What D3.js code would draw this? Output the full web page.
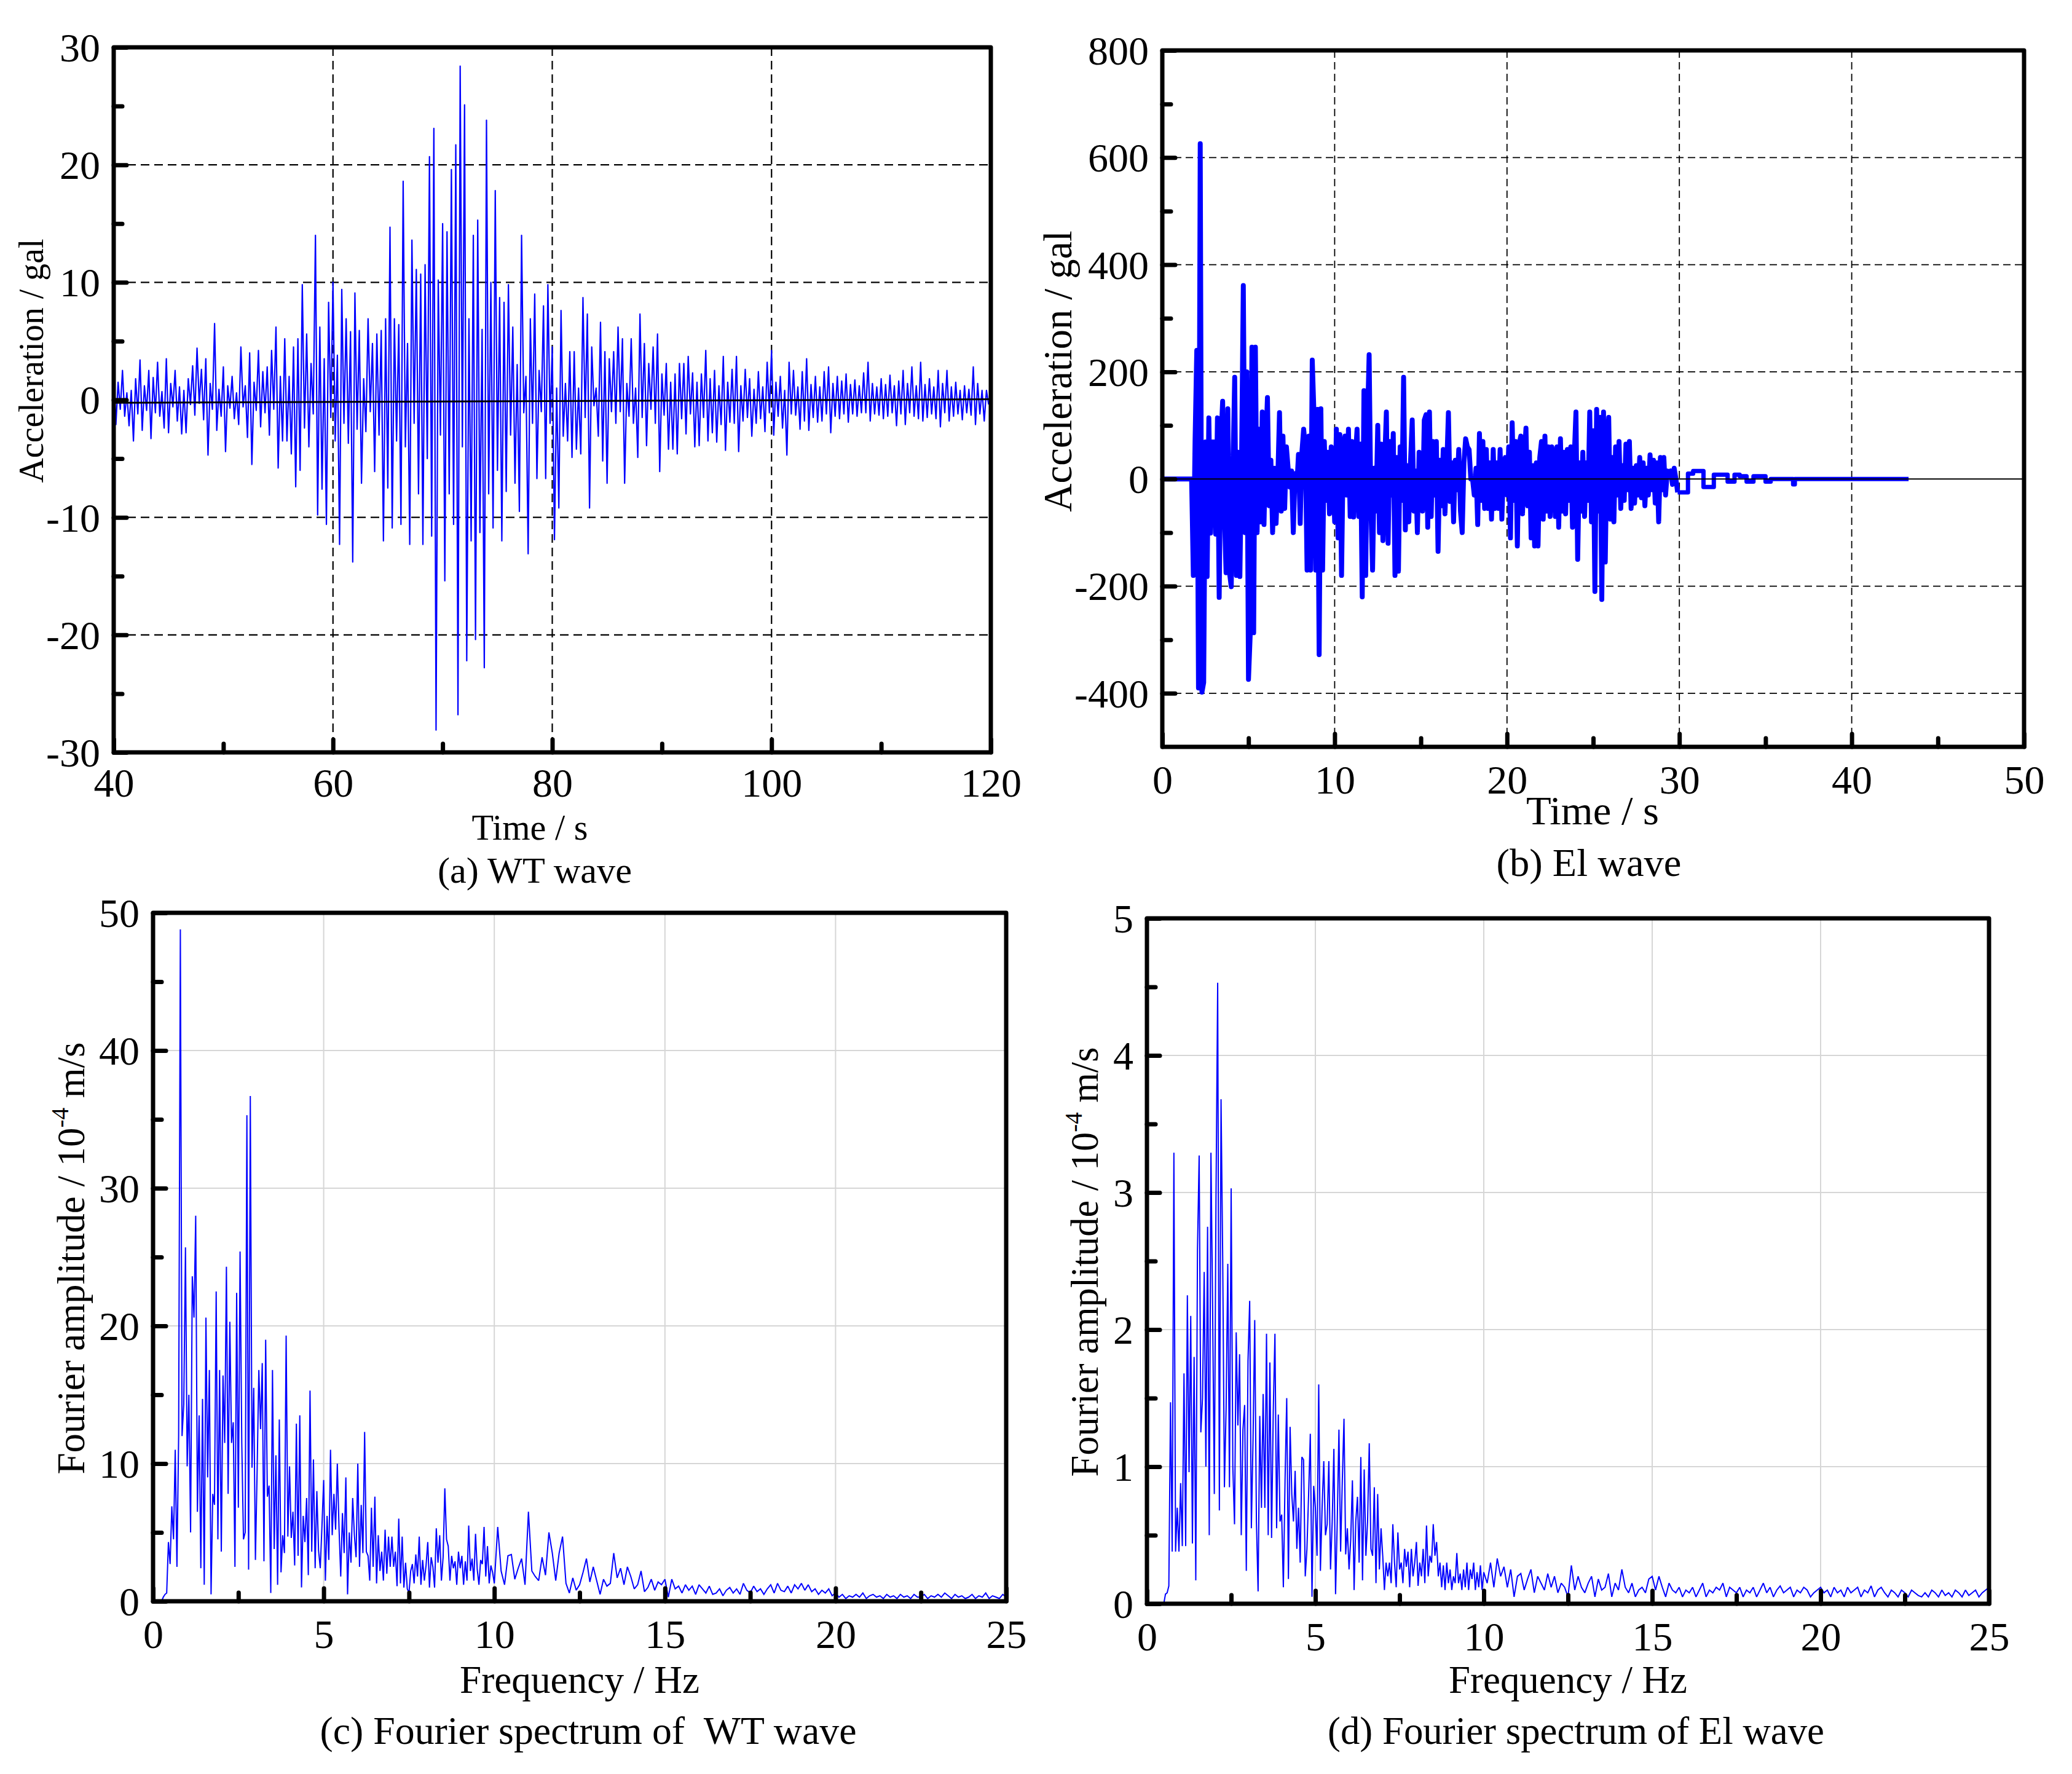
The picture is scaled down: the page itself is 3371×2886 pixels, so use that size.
<!DOCTYPE html>
<html><head><meta charset="utf-8">
<script src="https://cdn.jsdelivr.net/npm/d3@7"></script>
<style>
html,body{margin:0;padding:0;background:#fff;}
svg{display:block;background:#fff;}
text{font-family:"Liberation Serif","Times New Roman",Times,serif;fill:#000;}
</style>
</head><body>
<svg id="chart" width="3371" height="2886"></svg>
<script>
// ---------------- DATA ----------------
// (a) WT wave: acceleration (gal), sampled every 0.2 s from 40 s
const wtStart = 40, wtStep = 0.2;
const wtAcc = [
2.2,-2.1,1.5,-0.8,2.5,-1.4,0.6,-2.2,0.8,-3.5,
1.8,-1.2,3.4,-2.6,1.2,-0.9,2.5,-3.3,1.9,-1.1,
3.2,-1.4,0.7,-2.4,3.5,-2.8,1.4,-0.6,2.5,-1.8,
1.1,-2.9,0.8,-2.8,1.8,-0.4,2.9,-1.3,4.4,-0.3,
2.6,-1.7,3.5,-4.7,1.4,-0.8,6.5,-2.6,0.9,-1.4,
2.8,-4.4,1.2,-0.7,2,-1.6,0.6,-2.1,4.5,-0.6,
1.2,-3.2,4,-5.5,1.5,-0.9,4.2,-2.3,2.4,-1.1,
2.8,-3,4.2,-0.8,6.2,-5.8,2,-3.5,5.2,-3.5,
2,-4.6,4.5,-7.4,5.2,-6,9.8,-2.4,5.6,-4,
3.1,-1.2,14,-9.8,6.2,-7.6,3.5,-10.6,8.3,-1.5,
10,-3.5,3.8,-12.3,9.4,-2,6.9,-3.7,5.8,-13.8,
9.1,-2.5,5.9,-7.1,1.8,-2.7,6.9,-1,4.8,-6.1,
5.6,-3,5.9,-12,6.9,-7.5,14.7,-10.9,6.9,-3.5,
6.4,-10.6,18.6,-4,4.8,-12.3,13.6,-2,11.1,-8,
10.7,-12.3,11.5,-5,20.7,-11.6,23.1,-28.1,10.2,-3,
15,-15.4,14.3,-8,19.6,-10.6,21.7,-26.8,28.4,-4,
25.1,-22.2,6.9,-12,14,-20.4,15.3,-11.3,6,-22.8,
23.8,-8,10,-10.9,17.8,-6,8.7,-12,8.3,-7.8,
9.8,-3,6.2,-7.1,3,-9.5,14,-1.1,2,-13.1,
6.9,-2,9,-6.7,2.5,-1,8,-6.7,9.8,-2,
4.5,-11.9,1,-9.2,7.6,-3.1,1.4,-3.5,4.1,-4.9,
4.1,-4.2,1,-4.6,8.7,-1.5,7.3,-9.2,4.5,-0.5,
1,-3.1,6.6,-5.2,4.1,-7.1,3.5,-1,4.1,-2,
6.2,-1,5.2,-7.1,1.4,-1.4,5.2,-2,1,-4.9,
7.3,-1.5,4.8,-3.9,3.1,-0.8,4.5,-2,5.6,-6.1,
2.2,-1.3,3.1,-4.2,1.5,-4.2,2.2,-4.6,3.1,-1.6,
3.1,-2.9,3.7,-1.2,2.3,-4,1.5,-3.9,2.2,-1.5,
4.2,-3.5,1.8,-2.8,2.5,-3.6,1.2,-2.1,3.7,-4.3,
1.5,-1.9,2.6,-2,3.7,-4.4,1.2,-1.8,2.6,-1.5,
1.8,-3.1,0.9,-2,2.4,-1.6,1.1,-2.7,3.2,-1.1,
4.2,-3,1.5,-1.4,2,-2.4,0.8,-4.7,3.2,-1.2,
2.5,-1.3,1.1,-2.5,2.4,-1.8,3.5,-2.6,1.3,-1.5,
2,-1.9,1.1,-1.8,2.4,-1.2,2.8,-2.8,1.4,-1.4,
2,-1.6,1.6,-1.2,2.2,-1.9,1.3,-1.2,1.7,-1.4,
1.2,-1.1,2.3,-1.1,3.2,-1.8,1.4,-1.2,1.1,-1.3,
1.8,-1.6,1.3,-1.4,2.1,-1.1,1.2,-2.2,1.6,-1.2,
2.5,-2.1,1.4,-1.1,2.8,-1.4,1.2,-1.6,3.2,-1.8,
1.3,-1.5,1.8,-1.2,1.1,-1.6,2.5,-2.3,1.4,-1.1,
2.5,-1.8,1.1,-1.4,1.5,-1.2,0.8,-1.7,1.2,-1.1,
0.9,-1.3,2.8,-2.1,1.4,-1.2,0.8,-1.8,0.8,-0.4
];
// black reference (zero) line drawn in (a)
const wtBaseTime = [40, 120];
const wtBaseAcc = [-0.25, 0.05];

// (b) El wave: acceleration (gal), every 0.1 s from 1.0 s
const elStart = 1.0, elStep = 0.1;
const elAcc = [
0,0,0,0,0,0,0,0,-180,70,
240,-390,626,-398,-380,69,-182,114,-101,69,
69,-103,114,-221,70,145,-60,-175,131,-175,
-201,20,190,-180,50,-182,40,361,-100,200,
-374,-290,246,-287,246,-100,93,-80,125,-85,
60,152,-50,35,-100,20,-83,0,124,-60,
80,-55,60,20,-15,15,-100,10,-18,46,
-83,50,93,60,-170,80,-170,222,120,-170,
130,-328,131,-170,70,-40,50,-65,60,20,
-80,93,-110,83,-180,60,80,-30,93,-70,
70,-71,40,93,-70,65,-220,165,-180,100,
232,-50,-170,20,-60,100,-100,65,-115,30,
125,-120,70,-30,85,-180,40,-172,60,-40,
190,-95,25,-80,30,110,-60,15,-100,50,
20,-60,110,120,-90,125,-70,70,-30,70,
-135,35,-50,55,-65,20,124,-42,30,-80,
35,-20,55,-60,-100,30,75,60,55,0,
0,-30,20,-85,85,-40,70,-55,55,-55,
30,-75,55,-55,30,-55,55,-75,25,40,
-30,60,-110,105,-40,70,-125,65,80,-65,
40,95,-50,50,-110,25,-125,30,-125,40,
70,-75,80,-60,60,-70,60,40,-70,60,
-90,75,-60,50,-65,55,-40,60,-90,40,
125,-150,30,-60,50,-70,30,-40,125,-80,
90,-210,130,-60,115,-225,125,-155,60,115,
-75,40,-80,60,-30,70,-55,25,-40,65,
-20,70,-55,20,-45,25,-30,40,-35,30,
-50,20,-30,45,-20,35,-45,30,-80,40,
-20,40,-30,15,5,15,-10,20,0,-25
];
const elLeadTime = [0];
const elLeadAcc = [0];
const elTailTime = [30.0,30.3,30.5,30.8,31.0,31.4,31.7,32.0,32.4,32.8,33.2,33.5,33.9,34.3,34.6,35.0,35.3,36.5,36.6,36.7,43.3];
const elTailAcc  = [-25,-25,10,15,15,-15,-15,8,8,-5,8,5,-5,5,5,-5,0,0,-10,0,0];

// Fourier spectra (10^-4 m/s): 0-10 Hz every 0.05 Hz, 10.1-25 Hz every 0.1 Hz
const specLowStart = 0, specLowStep = 0.05;
const specHighStart = 10.1, specHighStep = 0.1;
const wtSpecLow = [
0,0,0,0,0,0,0.3,0.5,0.6,4.3,2.7,6.9,4.5,11,2.5,12,48.8,12,14.3,25.7,
9.8,15,5,23.6,20.6,28,6.5,13.5,2.4,14.7,1.2,20.6,9,16.8,0.5,7.8,7,22.5,4.5,16.8,
3.6,16.4,11.5,24.3,7.8,20.3,11.5,13,2.5,22.4,6.8,25.4,11.5,4.5,5,35.3,2.3,36.7,9.7,15.5,
3,9.5,16.8,12.5,17.3,2.9,19,7.6,8.4,0.6,16.8,3.8,10.6,1.2,13.2,2.1,4.8,3.5,19.3,4.7,
9.8,4.6,6.5,2.6,12.9,3.3,13.5,1,6.2,4.3,7.5,1.9,15.3,3.6,10.3,2.4,8,3.7,2.4,5.5,
8.8,1.5,6.2,3,11,4.8,7.8,5.2,10,5.3,1.8,6.4,3.5,9,0.5,5,2.8,7.5,4.8,3.2,
10,2.5,7,3.5,12.3,3.6,3.3,1.5,6.8,2.5,7.6,1.3,4.8,2.2,3.6,1.5,5.2,2,4.7,2.5,
4.7,2.5,3.6,1.1,6,1.3,4.7,1,2.8,0.9,0.6,2.2,2.7,1.3,3.4,1.8,4.7,1.2,3,1.5,
2.6,4.3,1,3.2,2.5,1,5.3,2.8,4.8,1.5,3.2,8.2,4.5,4,1.5,3.3,2.4,2.9,1.2,3.6,
2.4,3.3,1.2,2.9,1.5,5.5,2.2,3.1,1.5,4.9,2.3,1.2,3,2.7,5.4,1.8,4,1.3,2.6,2.1,
1.3
];
const wtSpecHigh = [
5.4,2.2,1.2,3.3,3.4,1.6,2.4,3.1,1.2,6.5,
2.2,1.8,1.5,3.2,1.9,5,3.5,1.5,3.5,4.7,
1.3,0.6,1.7,0.8,1.2,2.1,3.1,1.4,2.5,1.5,
0.5,1.6,1.1,1.3,3.5,1.7,2.4,1.2,2.5,1.8,
0.9,1.2,2.2,0.7,1,1.6,0.8,1.4,1.2,1.6,
0.3,1.6,0.9,1.1,0.6,1.2,0.8,1.1,0.5,1.2,
0.9,0.6,1.1,0.5,0.6,0.9,0.4,0.8,1,0.6,
0.9,0.5,1.3,0.8,0.6,1.1,0.7,0.9,0.5,0.9,
1.2,0.6,1.3,0.8,0.7,1.1,0.6,1.2,0.9,1.3,
0.8,1.2,0.7,0.9,0.5,0.8,0.6,0.9,0.4,0.6,
0.3,0.5,0.2,0.4,0.3,0.5,0.3,0.6,0.2,0.4,
0.5,0.3,0.4,0.2,0.5,0.3,0.4,0.2,0.5,0.3,
0.4,0.2,0.5,0.3,0.3,0.5,0.2,0.4,0.3,0.5,
0.3,0.6,0.4,0.2,0.5,0.3,0.4,0.2,0.3,0.5,
0.2,0.4,0.3,0.6,0.2,0.4,0.3,0.2,0.5,0.3
];
const elSpecLow = [
0,0,0,0,0,0,0,0,0,0,0,0.07,0.08,0.13,1.47,0.38,3.29,0.38,0.7,0.38,
0.88,0.42,1.68,0.42,2.25,0.96,2.1,0.44,1.8,0.17,2.58,3.27,1.25,1.5,2.42,1,2.75,0.5,3.29,2.15,
0.8,2.96,4.53,0.68,3.68,2.5,0.85,1.42,2.48,0.85,3.03,1,0.58,1.98,1.3,1.82,0.5,1.27,1.45,0.24,
1.77,2.21,0.55,1.2,2.07,0.6,0.09,1.37,0.7,1.53,0.7,1.97,0.5,1.76,0.48,1.4,1.97,0.55,1.38,0.6,
0.65,0.12,0.9,1.5,0.18,1.29,0.8,0.6,0.97,0.4,0.7,0.3,1.07,1.05,0.2,0.4,0.8,1.24,0.05,0.86,
0.7,0.35,1.6,0.24,0.7,1.04,0.5,0.58,1.04,0.25,0.6,1.13,0.07,0.6,1.27,0.38,0.9,1.35,0.36,0.55,
0.25,0.47,0.9,0.1,0.6,0.78,0.3,1.07,0.17,0.98,0.35,0.6,1.17,0.4,0.35,0.85,0.15,0.8,0.25,0.55,
0.35,0.1,0.3,0.2,0.3,0.15,0.58,0.3,0.12,0.52,0.25,0.3,0.15,0.4,0.27,0.38,0.12,0.4,0.2,0.3,
0.45,0.13,0.3,0.2,0.4,0.15,0.57,0.2,0.35,0.3,0.58,0.35,0.45,0.2,0.3,0.12,0.28,0.1,0.3,0.15,
0.25,0.1,0.2,0.15,0.37,0.15,0.22,0.1,0.25,0.12,0.3,0.1,0.25,0.18,0.3,0.1,0.23,0.12,0.28,0.1,
0.23
];
const elSpecHigh = [
0.15,0.3,0.12,0.33,0.2,0.27,0.12,0.25,0.05,0.2,
0.22,0.1,0.18,0.25,0.08,0.2,0.15,0.1,0.22,0.12,
0.2,0.08,0.15,0.12,0.05,0.28,0.1,0.2,0.12,0.08,
0.15,0.2,0.05,0.18,0.1,0.12,0.22,0.05,0.15,0.1,
0.25,0.12,0.08,0.15,0.05,0.1,0.12,0.08,0.18,0.2,
0.1,0.2,0.12,0.05,0.15,0.1,0.08,0.12,0.05,0.1,
0.08,0.12,0.05,0.1,0.15,0.05,0.1,0.08,0.12,0.1,
0.15,0.05,0.12,0.1,0.08,0.12,0.05,0.1,0.08,0.12,
0.05,0.1,0.15,0.08,0.12,0.05,0.1,0.13,0.08,0.1,
0.12,0.05,0.1,0.08,0.12,0.1,0.05,0.08,0.1,0.12,
0.08,0.1,0.05,0.12,0.08,0.1,0.05,0.12,0.08,0.1,
0.12,0.05,0.1,0.08,0.13,0.05,0.1,0.12,0.08,0.05,
0.1,0.08,0.05,0.1,0.08,0.05,0.1,0.08,0.06,0.05,
0.08,0.05,0.1,0.08,0.05,0.1,0.06,0.08,0.05,0.1,
0.08,0.05,0.1,0.06,0.08,0.1,0.05,0.08,0.1,0.12
];

// tick values
const aXTicks = [40,60,80,100,120], aXMinor = [50,70,90,110];
const aYTicks = [-30,-20,-10,0,10,20,30], aYMinor = [-25,-15,-5,5,15,25];
const bXTicks = [0,10,20,30,40,50], bXMinor = [5,15,25,35,45];
const bYTicks = [-400,-200,0,200,400,600,800], bYMinor = [-300,-100,100,300,500,700];
const sXTicks = [0,5,10,15,20,25], sXMinor = [2.5,7.5,12.5,17.5,22.5];
const cYTicks = [0,10,20,30,40,50], cYMinor = [5,15,25,35,45];
const dYTicks = [0,1,2,3,4,5], dYMinor = [0.5,1.5,2.5,3.5,4.5];

// ---------------- BUILD SERIES ----------------
const wtSeries = wtAcc.map((v,i)=>[wtStart + i*wtStep, v]);
const wtBase = wtBaseTime.map((t,i)=>[t, wtBaseAcc[i]]);
const elMain = elLeadTime.map((t,i)=>[t, elLeadAcc[i]]).concat(elAcc.map((v,i)=>[elStart + i*elStep, v]));
const elTail = [elMain[elMain.length-1]].concat(elTailTime.map((t,i)=>[t, elTailAcc[i]]));
const spec = (low, high) => low.map((v,i)=>[specLowStart + i*specLowStep, v])
  .concat(high.map((v,i)=>[specHighStart + i*specHighStep, v]));
const wtSpec = spec(wtSpecLow, wtSpecHigh);
const elSpec = spec(elSpecLow, elSpecHigh);

// ---------------- DRAW ----------------
const svg = d3.select('#chart');
const FONT = '"Liberation Serif","Times New Roman",Times,serif';
const fmt = d => String(d);

function panel(cfg) {
  const g = svg.append('g');
  const x = d3.scaleLinear().domain(cfg.xDomain).range([cfg.left, cfg.right]);
  const y = d3.scaleLinear().domain(cfg.yDomain).range([cfg.bottom, cfg.top]);
  const clipId = 'clip-' + cfg.key;
  svg.append('clipPath').attr('id', clipId).append('rect')
    .attr('x', cfg.left).attr('y', cfg.top)
    .attr('width', cfg.right - cfg.left).attr('height', cfg.bottom - cfg.top);

  // grid
  const grid = g.append('g');
  grid.selectAll('line.gx').data(cfg.xGrid).join('line').attr('class','gx')
    .attr('x1', d=>x(d)).attr('x2', d=>x(d)).attr('y1', cfg.top).attr('y2', cfg.bottom)
    .attr('stroke', cfg.gridColor).attr('stroke-width', cfg.gridWidth)
    .attr('stroke-dasharray', cfg.gridDash);
  grid.selectAll('line.gy').data(cfg.yGrid).join('line').attr('class','gy')
    .attr('y1', d=>y(d)).attr('y2', d=>y(d)).attr('x1', cfg.left).attr('x2', cfg.right)
    .attr('stroke', cfg.gridColor).attr('stroke-width', cfg.gridWidth)
    .attr('stroke-dasharray', cfg.gridDash);

  // data
  cfg.series.forEach(s => {
    g.append('path').datum(s.points)
      .attr('clip-path', `url(#${clipId})`)
      .attr('fill', 'none')
      .attr('stroke', s.color)
      .attr('stroke-width', s.width)
      .attr('stroke-linejoin', s.join || 'miter')
      .attr('stroke-miterlimit', 2)
      .attr('d', d3.line().x(p=>x(p[0])).y(p=>y(p[1])).curve(s.curve || d3.curveLinear));
  });

  // frame
  g.append('rect').attr('x', cfg.left).attr('y', cfg.top)
    .attr('width', cfg.right - cfg.left).attr('height', cfg.bottom - cfg.top)
    .attr('fill', 'none').attr('stroke', '#000').attr('stroke-width', 7)
    .attr('stroke-linejoin', 'round');

  // axes
  const styleTicks = (sel) => {
    sel.select('.domain').remove();
    sel.selectAll('.tick line').attr('stroke', '#000').attr('stroke-width', 7).attr('stroke-linecap', 'round');
  };
  const gx = g.append('g').attr('transform', `translate(0,${cfg.bottom})`)
    .call(d3.axisBottom(x).tickValues(cfg.xTicks).tickSize(-21).tickFormat(fmt));
  styleTicks(gx);
  gx.selectAll('.tick text').attr('y', cfg.xLabelY || 76).attr('dy', 0)
    .attr('font-family', FONT).attr('font-size', 66).attr('fill', '#000');
  const gxm = g.append('g').attr('transform', `translate(0,${cfg.bottom})`)
    .call(d3.axisBottom(x).tickValues(cfg.xMinor).tickSize(-14).tickFormat(''));
  styleTicks(gxm);

  const gy = g.append('g').attr('transform', `translate(${cfg.left},0)`)
    .call(d3.axisLeft(y).tickValues(cfg.yTicks).tickSize(-21).tickPadding(22).tickFormat(fmt));
  styleTicks(gy);
  gy.selectAll('.tick text').attr('dy', '0.34em')
    .attr('font-family', FONT).attr('font-size', 66).attr('fill', '#000');
  const gym = g.append('g').attr('transform', `translate(${cfg.left},0)`)
    .call(d3.axisLeft(y).tickValues(cfg.yMinor).tickSize(-14).tickFormat(''));
  styleTicks(gym);

  // titles
  g.append('text').attr('x', cfg.xTitle.x).attr('y', cfg.xTitle.y)
    .attr('text-anchor', 'middle').attr('font-size', cfg.xTitle.size)
    .attr('textLength', cfg.xTitle.len).attr('lengthAdjust', 'spacingAndGlyphs')
    .text(cfg.xTitle.text);
  const yt = g.append('text')
    .attr('transform', `translate(${cfg.yTitle.x},${cfg.yTitle.y}) rotate(-90)`)
    .attr('text-anchor', 'middle').attr('font-size', cfg.yTitle.size)
    .attr('textLength', cfg.yTitle.len).attr('lengthAdjust', 'spacingAndGlyphs');
  if (cfg.yTitle.sup) {
    yt.append('tspan').text(cfg.yTitle.text);
    yt.append('tspan').attr('font-size', cfg.yTitle.size * 0.62).attr('dy', -cfg.yTitle.size * 0.4).text(cfg.yTitle.sup);
    yt.append('tspan').attr('dy', cfg.yTitle.size * 0.4).text(cfg.yTitle.after);
  } else {
    yt.text(cfg.yTitle.text);
  }
  g.append('text').attr('x', cfg.caption.x).attr('y', cfg.caption.y)
    .attr('text-anchor', 'middle').attr('font-size', cfg.caption.size)
    .attr('textLength', cfg.caption.len).attr('lengthAdjust', 'spacingAndGlyphs')
    .style('white-space', 'pre')
    .text(cfg.caption.text);
}

// (a)
panel({
  key: 'a', left: 185, right: 1612, top: 77, bottom: 1224,
  xDomain: [40,120], yDomain: [-30,30],
  xTicks: aXTicks, xMinor: aXMinor, yTicks: aYTicks, yMinor: aYMinor,
  xLabelY: 72,
  xGrid: [60,80,100], yGrid: [-20,-10,10,20],
  gridColor: '#000', gridWidth: 2.2, gridDash: '14,8',
  series: [
    {points: wtSeries, color: '#0000ff', width: 2.2, join: 'round'},
    {points: wtBase, color: '#000', width: 3}
  ],
  xTitle: {text: 'Time / s', x: 862, y: 1366, size: 60, len: 189},
  yTitle: {text: 'Acceleration / gal', x: 70, y: 587, size: 57, len: 397},
  caption: {text: '(a) WT wave', x: 870, y: 1436, size: 60, len: 316}
});

// (b)
panel({
  key: 'b', left: 1891, right: 3293, top: 82, bottom: 1215,
  xDomain: [0,50], yDomain: [-500,800],
  xTicks: bXTicks, xMinor: bXMinor, yTicks: bYTicks, yMinor: bYMinor,
  xGrid: [10,20,30,40], yGrid: [-400,-200,200,400,600],
  gridColor: '#000', gridWidth: 1.8, gridDash: '12,7',
  series: [
    {points: elMain, color: '#0000ff', width: 8, join: 'round'},
    {points: elTail, color: '#0000ff', width: 7, join: 'round', curve: d3.curveStepAfter},
    {points: [[0,0],[50,0]], color: '#000', width: 2}
  ],
  xTitle: {text: 'Time / s', x: 2591, y: 1341, size: 66, len: 216},
  yTitle: {text: 'Acceleration / gal', x: 1743, y: 604, size: 66, len: 458},
  caption: {text: '(b) El wave', x: 2585, y: 1425, size: 64, len: 301}
});

// (c)
panel({
  key: 'c', left: 249, right: 1637, top: 1485, bottom: 2605,
  xDomain: [0,25], yDomain: [0,50],
  xTicks: sXTicks, xMinor: sXMinor, yTicks: cYTicks, yMinor: cYMinor,
  xGrid: [5,10,15,20], yGrid: [10,20,30,40],
  gridColor: '#d6d6d6', gridWidth: 2, gridDash: null,
  series: [{points: wtSpec, color: '#0000ff', width: 2, join: 'miter'}],
  xTitle: {text: 'Frequency / Hz', x: 943, y: 2754, size: 63, len: 390},
  yTitle: {text: 'Fourier amplitude / 10', sup: '-4', after: ' m/s', x: 137, y: 2047, size: 64, len: 703},
  caption: {text: '(c) Fourier spectrum of  WT wave', x: 957, y: 2837, size: 63, len: 873}
});

// (d)
panel({
  key: 'd', left: 1866, right: 3236, top: 1494, bottom: 2609,
  xDomain: [0,25], yDomain: [0,5],
  xTicks: sXTicks, xMinor: sXMinor, yTicks: dYTicks, yMinor: dYMinor,
  xGrid: [5,10,15,20], yGrid: [1,2,3,4],
  gridColor: '#d6d6d6', gridWidth: 2, gridDash: null,
  series: [{points: elSpec, color: '#0000ff', width: 2, join: 'miter'}],
  xTitle: {text: 'Frequency / Hz', x: 2551, y: 2754, size: 63, len: 388},
  yTitle: {text: 'Fourier amplitude / 10', sup: '-4', after: ' m/s', x: 1786, y: 2053, size: 64, len: 699},
  caption: {text: '(d) Fourier spectrum of El wave', x: 2564, y: 2837, size: 63, len: 808}
});
</script>
</body></html>
